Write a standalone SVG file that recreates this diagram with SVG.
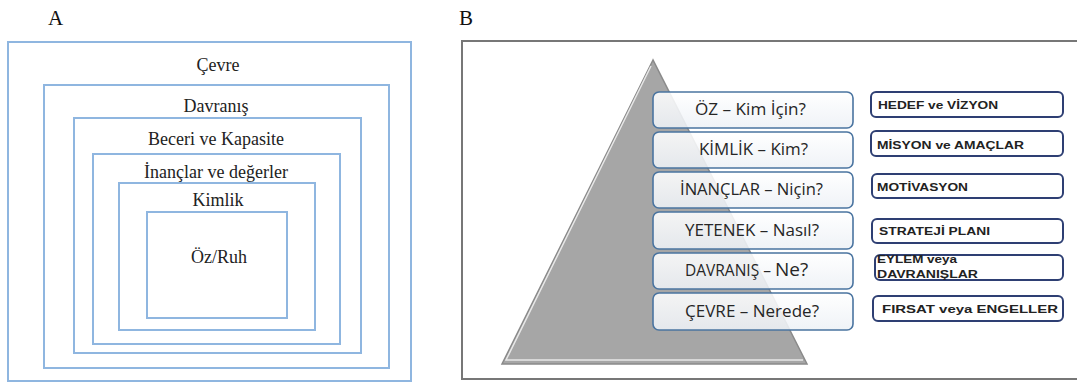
<svg xmlns="http://www.w3.org/2000/svg" width="1077" height="382" viewBox="0 0 1077 382">
<style>
.lbl{font-family:"Liberation Serif",serif;font-size:18px;fill:#222;text-anchor:middle}
.big{font-family:"Liberation Serif",serif;font-size:21px;fill:#111}
.ab{fill:none;stroke:#8fb6e0;stroke-width:2}
.lb{fill:url(#lg);fill-opacity:0.88;stroke:#4a74a0;stroke-width:1.6}
.lt{font-family:"Open Sans",sans-serif;font-size:15.5px;fill:#262626}
.rb{fill:#fff;stroke:#2e3f73;stroke-width:2}
.rt{font-family:"Liberation Sans",sans-serif;font-size:11.5px;font-weight:bold;fill:#222}
</style>
<defs>
<linearGradient id="lg" x1="0" y1="0" x2="0" y2="1">
<stop offset="0" stop-color="#ffffff"/>
<stop offset="1" stop-color="#edf1f6"/>
</linearGradient>
</defs>
<rect width="1077" height="382" fill="#fff"/>
<text class="big" x="48" y="25">A</text>
<text class="big" x="459" y="25">B</text>
<g id="panelA">
<g id="cevre"><rect class="ab" x="8" y="42" width="403" height="339"/><text class="lbl" x="218" y="71">Çevre</text></g>
<g id="davranis"><rect class="ab" x="44" y="85" width="345" height="283"/><text class="lbl" x="216" y="112">Davranış</text></g>
<g id="beceri"><rect class="ab" x="74" y="118" width="287" height="235"/><text class="lbl" x="216" y="145">Beceri ve Kapasite</text></g>
<g id="inanclar"><rect class="ab" x="93" y="154" width="247" height="190"/><text class="lbl" x="216" y="178">İnançlar ve değerler</text></g>
<g id="kimlik"><rect class="ab" x="119" y="183" width="196" height="147"/><text class="lbl" x="218" y="206">Kimlik</text></g>
<g id="oz"><rect class="ab" x="147" y="212" width="140" height="106"/><text class="lbl" x="219" y="263">Öz/Ruh</text></g>
</g>
<g id="panelB">
<rect x="462" y="41" width="620" height="338" fill="none" stroke="#777" stroke-width="2"/>
<g id="pyramid">
<polygon points="653,60 502,364 807,364" fill="#a6a6a6" stroke="#8a8a8a" stroke-width="1.5"/>
<polyline points="651,66 506,360 803,360" fill="none" stroke="#f2f2f2" stroke-width="1.5" opacity="0.85"/>
</g>
<g id="b-oz"><rect class="lb" x="653" y="92" width="200" height="36" rx="6"/><text class="lt" x="695" y="115" textLength="111" lengthAdjust="spacingAndGlyphs">ÖZ – Kim İçin?</text></g>
<g id="b-kimlik"><rect class="lb" x="653" y="132" width="200" height="36" rx="6"/><text class="lt" x="699" y="155" textLength="109" lengthAdjust="spacingAndGlyphs">KİMLİK – Kim?</text></g>
<g id="b-inanclar"><rect class="lb" x="653" y="172" width="200" height="36" rx="6"/><text class="lt" x="680" y="195" textLength="143" lengthAdjust="spacingAndGlyphs">İNANÇLAR – Niçin?</text></g>
<g id="b-yetenek"><rect class="lb" x="653" y="212" width="200" height="37" rx="6"/><text class="lt" x="685" y="236" textLength="134" lengthAdjust="spacingAndGlyphs">YETENEK – Nasıl?</text></g>
<g id="b-davranis"><rect class="lb" x="653" y="253" width="200" height="36" rx="6"/><text class="lt" x="685" y="276">DAVRANIŞ – <tspan font-size="19px">Ne?</tspan></text></g>
<g id="b-cevre"><rect class="lb" x="653" y="293" width="200" height="37" rx="6"/><text class="lt" x="685" y="317" textLength="134" lengthAdjust="spacingAndGlyphs">ÇEVRE – Nerede?</text></g>
<g id="r-hedef"><rect class="rb" x="871" y="92" width="192" height="25" rx="5"/><text class="rt" x="878" y="109" textLength="120" lengthAdjust="spacingAndGlyphs">HEDEF  ve VİZYON</text></g>
<g id="r-misyon"><rect class="rb" x="871" y="131" width="192" height="25" rx="5"/><text class="rt" x="877" y="149" textLength="147" lengthAdjust="spacingAndGlyphs">MİSYON  ve AMAÇLAR</text></g>
<g id="r-motivasyon"><rect class="rb" x="872" y="174" width="191" height="24" rx="5"/><text class="rt" x="877" y="191" textLength="91" lengthAdjust="spacingAndGlyphs">MOTİVASYON</text></g>
<g id="r-strateji"><rect class="rb" x="872" y="219" width="191" height="24" rx="5"/><text class="rt" x="879" y="235" textLength="111" lengthAdjust="spacingAndGlyphs">STRATEJİ PLANI</text></g>
<g id="r-eylem"><rect class="rb" x="875" y="255" width="188" height="25" rx="5"/><text class="rt" x="877" y="263" textLength="80" lengthAdjust="spacingAndGlyphs">EYLEM  veya</text><text class="rt" x="877" y="278" textLength="101" lengthAdjust="spacingAndGlyphs">DAVRANIŞLAR</text></g>
<g id="r-firsat"><rect class="rb" x="873" y="296" width="190" height="25" rx="5"/><text class="rt" x="882" y="313" textLength="176" lengthAdjust="spacingAndGlyphs">FIRSAT  veya ENGELLER</text></g>
</g>
</svg>
